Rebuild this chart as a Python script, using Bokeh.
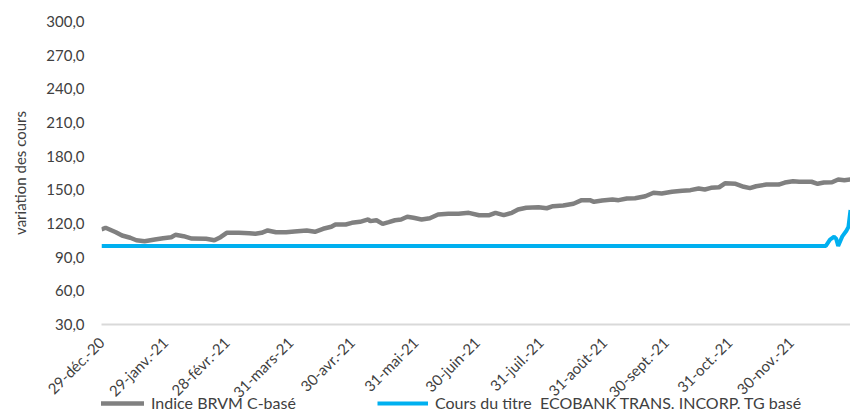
import math
from bokeh.plotting import figure
from bokeh.models import Range1d, FixedTicker, Legend, LegendItem
from bokeh.layouts import column
from bokeh.embed import file_html
from bokeh.resources import INLINE

# Days counted from 29-déc.-20
brvm_days = [0, 2, 7, 10, 14, 17, 21, 26, 30, 34, 36, 40, 44, 51, 55, 58, 61, 67, 72, 75,
             78, 81, 85, 90, 94, 100, 104, 108, 112, 114, 119, 122, 126, 130, 131, 134, 137,
             140, 143, 146, 149, 152, 156, 160, 164, 169, 174, 179, 184, 189, 192, 196, 200,
             203, 207, 213, 217, 220, 225, 230, 234, 238, 240, 244, 249, 252, 256, 260, 265,
             269, 273, 278, 283, 287, 291, 294, 297, 301, 304, 309, 313, 316, 319, 324, 330,
             333, 337, 340, 346, 349, 352, 356, 359, 362, 365]
brvm_vals = [114.7, 116.2, 112.2, 109.3, 107.3, 105.1, 104.2, 105.7, 106.9, 107.8, 109.9, 108.7,
             106.6, 106.4, 105.1, 107.8, 111.7, 111.7, 111.4, 110.8, 111.7, 113.8, 112.2, 112.2,
             112.9, 113.8, 112.6, 115.3, 117.1, 119.1, 119.1, 120.6, 121.5, 123.6, 122.1, 122.9,
             119.7, 121.2, 122.9, 123.6, 126.0, 125.1, 123.6, 124.7, 128.0, 128.6, 128.6, 129.5,
             127.4, 127.4, 129.5, 127.4, 129.5, 132.5, 134.0, 134.5, 133.6, 135.4, 136.0, 137.6,
             140.8, 140.8, 139.3, 140.5, 141.4, 140.8, 142.3, 142.5, 144.3, 147.4, 146.7, 148.3,
             149.1, 149.7, 151.2, 150.3, 151.8, 152.3, 155.9, 155.4, 152.7, 151.5, 153.2, 154.7,
             154.7, 156.5, 157.7, 157.2, 157.2, 155.4, 156.5, 156.8, 159.2, 158.6, 159.2]

eti_days = [0, 353, 355, 357, 358, 359, 361, 363, 364, 365]
eti_vals = [100.0, 100.0, 105.7, 108.2, 106.5, 100.0, 108.5, 113.5, 117.0, 132.0]

tick_days = [0, 31, 61, 92, 122, 153, 183, 214, 245, 275, 306, 336]
tick_labels = ["29-déc.-20", "29-janv.-21", "28-févr.-21", "31-mars-21", "30-avr.-21",
               "31-mai-21", "30-juin-21", "31-juil.-21", "31-août-21", "30-sept.-21",
               "31-oct.-21", "30-nov.-21"]
y_ticks = [30, 60, 90, 120, 150, 180, 210, 240, 270, 300]

series_names = ["Indice BRVM C-basé", "Cours du titre  ECOBANK TRANS. INCORP. TG basé"]
series_colors = ["#808080", "#00b0f0"]
series_widths = [4.5, 4]

FONT = "Lato"
TXT = "#404040"

p = figure(width=850, height=412, output_backend="svg", toolbar_location=None,
           x_range=Range1d(0, 365), y_range=Range1d(30, 300),
           min_border_left=101, min_border_right=0, min_border_top=21, min_border_bottom=88)
p.outline_line_color = None
p.xgrid.visible = False
p.ygrid.visible = False

p.line(brvm_days, brvm_vals, line_color=series_colors[0], line_width=series_widths[0])
p.line(eti_days, eti_vals, line_color=series_colors[1], line_width=series_widths[1])

# Y axis
p.yaxis.ticker = FixedTicker(ticks=y_ticks)
p.yaxis.major_label_overrides = {t: f"{t},0" for t in y_ticks}
p.yaxis.axis_line_color = None
p.yaxis.major_tick_line_color = None
p.yaxis.major_tick_out = 0
p.yaxis.major_tick_in = 0
p.yaxis.minor_tick_line_color = None
p.yaxis.major_label_standoff = 17
p.yaxis.major_label_text_font = FONT
p.yaxis.major_label_text_font_size = "15px"
p.yaxis.major_label_text_color = TXT
p.yaxis.axis_label = "variation des cours"
p.yaxis.axis_label_text_font = FONT
p.yaxis.axis_label_text_font_size = "15px"
p.yaxis.axis_label_text_font_style = "normal"
p.yaxis.axis_label_text_color = TXT
p.yaxis.axis_label_standoff = 14

# X axis
p.xaxis.ticker = FixedTicker(ticks=tick_days)
p.xaxis.major_label_overrides = {d: l for d, l in zip(tick_days, tick_labels)}
p.xaxis.major_label_orientation = math.pi / 4
p.xaxis.axis_line_color = "#d9d9d9"
p.xaxis.axis_line_width = 2
p.xaxis.major_tick_line_color = None
p.xaxis.major_tick_out = 0
p.xaxis.major_tick_in = 0
p.xaxis.minor_tick_line_color = None
p.xaxis.major_label_standoff = 15
p.xaxis.major_label_text_font = FONT
p.xaxis.major_label_text_font_size = "15px"
p.xaxis.major_label_text_color = TXT

# Legend strip, pulled up over the bottom of the chart
pl = figure(width=850, height=20, output_backend="svg", toolbar_location=None,
            x_range=p.x_range, y_range=Range1d(0, 1),
            x_axis_type=None, y_axis_type=None,
            min_border_left=0, min_border_right=0, min_border_top=0, min_border_bottom=0,
            margin=(-20, 0, 0, 0))
pl.outline_line_color = None
pl.background_fill_color = None
pl.border_fill_color = None
pl.xgrid.visible = False
pl.ygrid.visible = False
lr1 = pl.line(brvm_days, brvm_vals, line_color=series_colors[0], line_width=series_widths[0])
lr2 = pl.line(eti_days, eti_vals, line_color=series_colors[1], line_width=series_widths[1])
legend = Legend(items=[LegendItem(label=series_names[0], renderers=[lr1]),
                       LegendItem(label=series_names[1], renderers=[lr2])],
                orientation="horizontal", location=(-8, 0),
                glyph_width=51, glyph_height=16, label_height=16, label_standoff=7,
                spacing=81, padding=0, margin=0,
                border_line_color=None, background_fill_alpha=0,
                label_text_font=FONT, label_text_font_size="16px", label_text_color=TXT)
pl.add_layout(legend, "center")

layout = column(p, pl, spacing=0)
open("out.html", "w").write(file_html(layout, INLINE))
